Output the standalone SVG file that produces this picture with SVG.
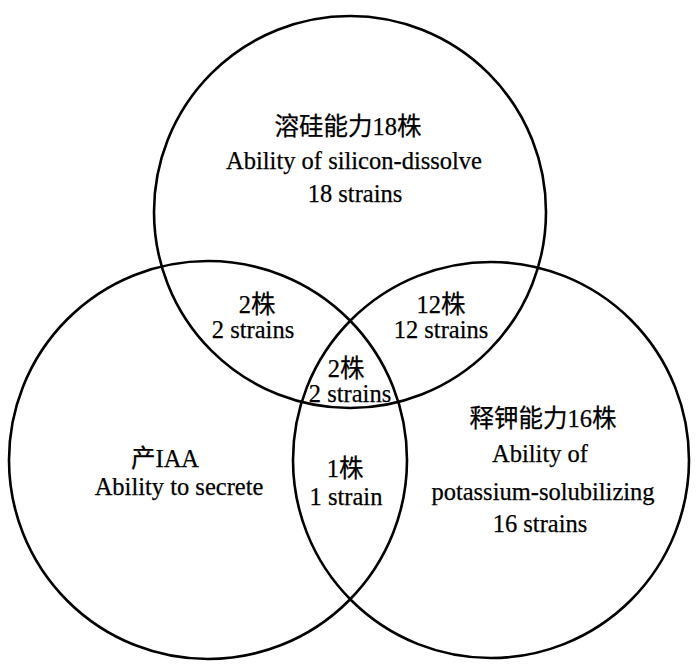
<svg xmlns="http://www.w3.org/2000/svg" width="700" height="668" viewBox="0 0 700 668">
<style>
.c{fill:none;stroke:#000;stroke-width:2.6}
text{font-family:"Liberation Serif","Noto Sans CJK SC",serif;font-size:24.5px;fill:#000;stroke:#000;stroke-width:0.25;text-anchor:middle}
</style>
<rect width="700" height="668" fill="#fff"/>
<g id="connectors"></g>
<g id="silicon">
<circle class="c" cx="350" cy="212" r="196"/>
<text x="348" y="135">溶硅能力18株</text>
<text x="354" y="169">Ability of silicon-dissolve</text>
<text x="355" y="202">18 strains</text>
</g>
<g id="iaa">
<circle class="c" cx="208" cy="460" r="199"/>
<text x="165" y="467">产IAA</text>
<text x="179" y="495">Ability to secrete</text>
</g>
<g id="potassium">
<circle class="c" cx="491" cy="460" r="198"/>
<text x="543" y="427">释钾能力16株</text>
<text x="540" y="462">Ability of</text>
<text x="543" y="500">potassium-solubilizing</text>
<text x="540" y="532">16 strains</text>
</g>
<g id="si-iaa">
<text x="257" y="313">2株</text>
<text x="253" y="338">2 strains</text>
</g>
<g id="si-k">
<text x="441" y="313">12株</text>
<text x="441" y="338">12 strains</text>
</g>
<g id="all">
<text x="346" y="377">2株</text>
<text x="350" y="402">2 strains</text>
</g>
<g id="iaa-k">
<text x="345" y="477">1株</text>
<text x="346" y="505">1 strain</text>
</g>
</svg>
